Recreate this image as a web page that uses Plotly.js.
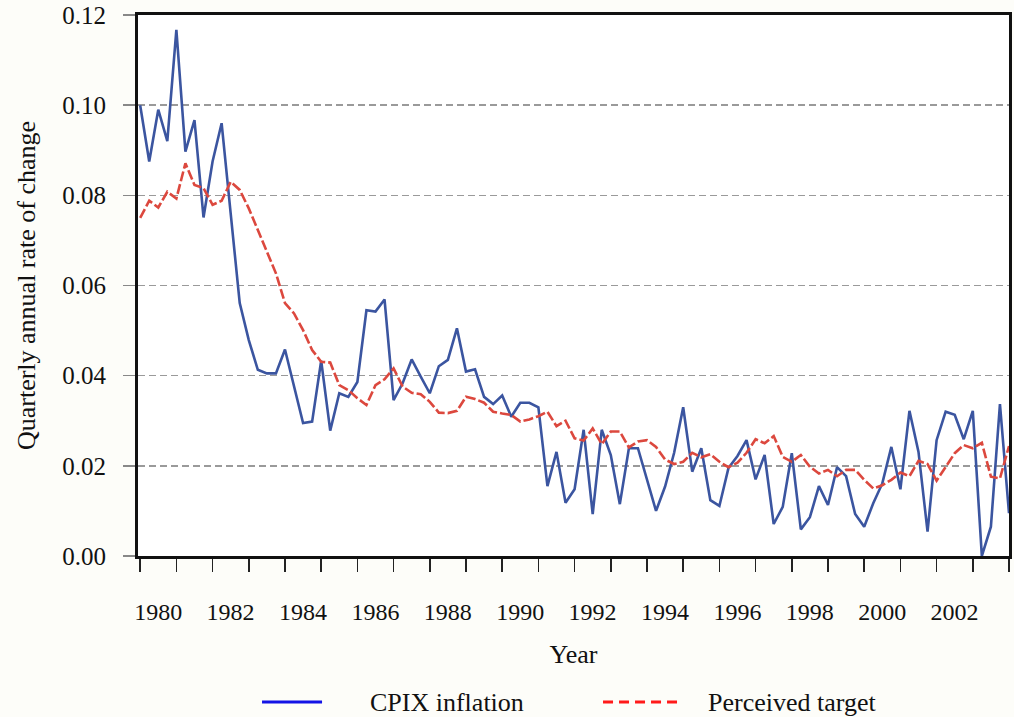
<!DOCTYPE html>
<html>
<head>
<meta charset="utf-8">
<script src="https://cdn.plot.ly/plotly-3.0.1.min.js"></script>
<style>html,body{margin:0;padding:0;background:#fdfdf9;}</style>
</head>
<body>
<div id="chart" style="width:1014px;height:717px;"></div>
<script>
// Quarterly observations, 1980Q1 .. 2004Q1
var startYear = 1980;
var cpixInflation = [
  0.100, 0.0875, 0.099, 0.092, 0.1167, 0.0897, 0.0967, 0.0751, 0.0875, 0.096,
  0.076, 0.0561, 0.0479, 0.0413, 0.0405, 0.0405, 0.0458, 0.0377, 0.0295, 0.0298,
  0.0433, 0.0278, 0.0361, 0.0353, 0.0386, 0.0545, 0.0542, 0.0569, 0.0346, 0.0383,
  0.0436, 0.0398, 0.0361, 0.0421, 0.0435, 0.0505, 0.0409, 0.0414, 0.0353, 0.0337,
  0.0356, 0.0309, 0.034, 0.034, 0.033, 0.0155, 0.0231, 0.0118, 0.0148, 0.028,
  0.0093, 0.028, 0.0224, 0.0115, 0.0239, 0.0239, 0.0172, 0.0100, 0.0154, 0.0229,
  0.033, 0.0187, 0.0239, 0.0124, 0.0111, 0.0195, 0.0222, 0.0257, 0.017, 0.0224,
  0.0071, 0.0109, 0.0228, 0.0059, 0.0086, 0.0155, 0.0113, 0.0197, 0.0177, 0.0093,
  0.0065, 0.0117, 0.0161, 0.0242, 0.0148, 0.0322, 0.0231, 0.0054, 0.0257, 0.032,
  0.0313, 0.0259, 0.0322, 0.0000, 0.0065, 0.0337, 0.0095
];
var perceivedTarget = [
  0.075, 0.0788, 0.0773, 0.0808, 0.0793, 0.0871, 0.0823, 0.0816, 0.0779, 0.0788,
  0.083, 0.0812, 0.0771, 0.0723, 0.0679, 0.0627, 0.0561, 0.0538, 0.0501, 0.0457,
  0.0431, 0.0429, 0.0379, 0.0368, 0.035, 0.0335, 0.0379, 0.0392, 0.0416, 0.0376,
  0.0362, 0.0359, 0.0342, 0.0318, 0.0317, 0.0322, 0.0353, 0.0348, 0.034, 0.032,
  0.0316, 0.0313, 0.0298, 0.0303, 0.031, 0.032, 0.0288, 0.030, 0.0261, 0.0256,
  0.0283, 0.0248, 0.0276, 0.0276, 0.0241, 0.0254, 0.0257, 0.0242, 0.0214, 0.0204,
  0.0209, 0.0229, 0.0219, 0.0226, 0.0209, 0.0197, 0.0207, 0.0229, 0.0259, 0.025,
  0.0266, 0.022, 0.0209, 0.0224, 0.0198, 0.0183, 0.0191, 0.0177, 0.0191, 0.0191,
  0.0169, 0.015, 0.0157, 0.0169, 0.0185, 0.0177, 0.0211, 0.0204, 0.0167, 0.0198,
  0.0228, 0.0246, 0.0239, 0.0251, 0.0176, 0.0172, 0.0244
];
var yearTickLabels = ["1980","1982","1984","1986","1988","1990","1992","1994","1996","1998","2000","2002"];
var yTickValues = [0, 0.02, 0.04, 0.06, 0.08, 0.10, 0.12];
var seriesNames = ["CPIX inflation", "Perceived target"];

var quarters = cpixInflation.map(function(_, i){ return startYear + i / 4; });
var tickYears = yearTickLabels.map(Number);

var FONT = "'Liberation Serif', 'Times New Roman', serif";
var TXT = "#111";

var traces = [
  {x: quarters, y: cpixInflation, type: "scatter", mode: "lines", name: seriesNames[0],
   line: {color: "#3b55a0", width: 2.6}, showlegend: false},
  {x: quarters, y: perceivedTarget, type: "scatter", mode: "lines", name: seriesNames[1],
   line: {color: "#dc483e", width: 2.6, dash: "10px,3px"}, showlegend: false}
];

var legY = -0.2699;
var layout = {
  width: 1014, height: 717,
  margin: {l: 138, r: 5, t: 15, b: 161},
  paper_bgcolor: "#fdfdf9",
  plot_bgcolor: "#ffffff",
  font: {family: FONT, size: 24, color: TXT},
  showlegend: false,
  xaxis: {
    range: [1979.94, 2004.0],
    tickvals: tickYears, ticktext: yearTickLabels,
    ticklabelshift: 18, ticklabelstandoff: 19,
    ticks: "outside", ticklen: 13, tickwidth: 1.5, tickcolor: "#222",
    minor: {dtick: 1, tick0: 1980, ticks: "outside", ticklen: 13, tickwidth: 1.5, tickcolor: "#222", showgrid: false},
    showgrid: false, zeroline: false,
    showline: true, linecolor: "#111", linewidth: 3, mirror: true,
    tickfont: {family: FONT, size: 24, color: TXT},
    title: {text: "Year", font: {family: FONT, size: 26, color: TXT}, standoff: 22}
  },
  yaxis: {
    range: [0, 0.12],
    tickvals: yTickValues, tickformat: ".2f",
    ticks: "outside", ticklen: 12, tickwidth: 1.5, tickcolor: "#888",
    ticklabelstandoff: 12,
    showgrid: true, gridcolor: "#9a9a9a", gridwidth: 1.5, griddash: "7px,4px",
    zeroline: false,
    showline: true, linecolor: "#111", linewidth: 3, mirror: true,
    tickfont: {family: FONT, size: 25, color: TXT},
    title: {text: "Quarterly annual rate of change", font: {family: FONT, size: 26, color: TXT}, standoff: 20}
  },
  shapes: [
    {type: "line", xref: "paper", yref: "paper", x0: 0.1424, x1: 0.2113, y0: legY, y1: legY,
     line: {color: "#1414e6", width: 3}},
    {type: "line", xref: "paper", yref: "paper", x0: 0.5339, x1: 0.6223, y0: legY, y1: legY,
     line: {color: "#ff1a1a", width: 3, dash: "10px,6px"}}
  ],
  annotations: [
    {xref: "paper", yref: "paper", x: 0.2641, y: legY, xanchor: "left", yanchor: "middle",
     text: seriesNames[0], showarrow: false, font: {family: FONT, size: 26, color: TXT}},
    {xref: "paper", yref: "paper", x: 0.6521, y: legY, xanchor: "left", yanchor: "middle",
     text: seriesNames[1], showarrow: false, font: {family: FONT, size: 26, color: TXT}}
  ]
};

Plotly.newPlot("chart", traces, layout, {displayModeBar: false, staticPlot: true});
</script>
</body>
</html>
